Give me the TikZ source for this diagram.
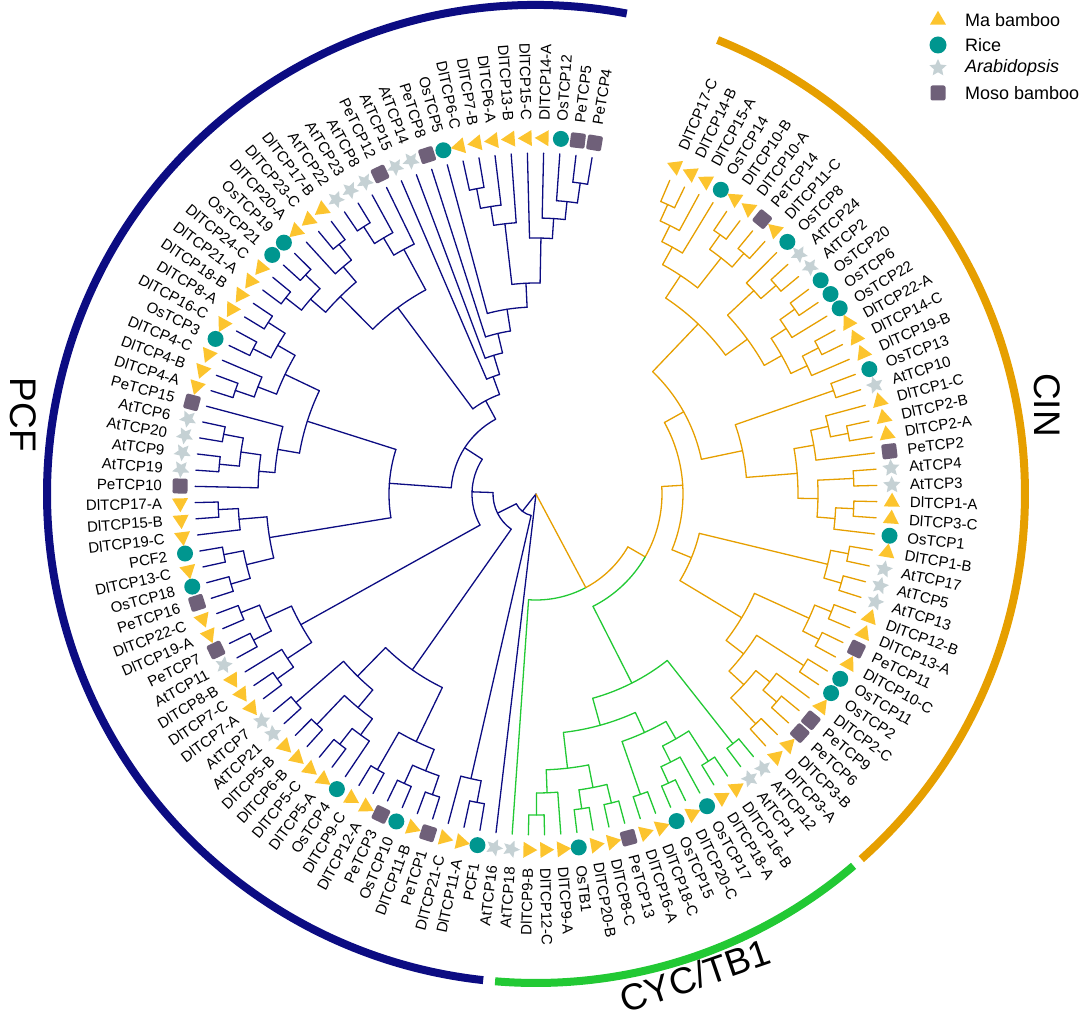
\documentclass[tikz,border=0pt]{standalone}
\usepackage{fontspec}
\setmainfont{Liberation Sans}
\usetikzlibrary{shapes.geometric}
\definecolor{triY}{HTML}{FCC42E}
\definecolor{cirT}{HTML}{00968F}
\definecolor{starG}{HTML}{C5D1D4}
\definecolor{sqP}{HTML}{6F6079}
\definecolor{pcf}{HTML}{0C0C82}
\definecolor{cin}{HTML}{E69F00}
\definecolor{cyc}{HTML}{22C934}
\newcommand\PA[1]{(66.9-(#1-1)*2.72727)}
\newcommand\stem[4][pcf]{\draw[#1] ({\PA{#2}}:#3) -- ({\PA{#2}}:#4);}
\newcommand\carc[4][pcf]{\draw[#1] ({\PA{#3}}:#2) arc[start angle={\PA{#3}}, end angle={\PA{#4}}, radius=#2];}
\newcommand\cl[3][pcf]{\foreach \pp/\rr [count=\cc] in {#3}{\stem[#1]{\pp}{#2}{\rr}\ifnum\cc=1 \xdef\pfirst{\pp}\fi\xdef\plast{\pp}}\carc[#1]{#2}{\pfirst}{\plast}}
\tikzset{
  mkt/.style={regular polygon, regular polygon sides=3, fill=triY, inner sep=0pt, minimum size=18.5bp},
  mkc/.style={circle, fill=cirT, inner sep=0pt, minimum size=16bp},
  mks/.style={star, star points=5, star point ratio=2.1, fill=starG, inner sep=0pt, minimum size=18bp},
  mkq/.style={rectangle, rounded corners=2bp, fill=sqP, inner sep=0pt, minimum size=15bp},
  lbl/.style={font=\fontsize{15bp}{18bp}\selectfont, inner sep=0pt},
  grp/.style={font=\fontsize{37bp}{40bp}\selectfont, inner sep=0pt},
  leg/.style={font=\fontsize{18bp}{21bp}\selectfont, inner sep=0pt, anchor=west}
}
\begin{document}
\begin{tikzpicture}[x=1bp,y=1bp]
\useasboundingbox (-536,-531) rectangle (548,494);
% outer class arcs
\draw[pcf, line width=8bp] (79.3:489) arc[start angle=79.3, end angle=263.8, radius=489];
\draw[cyc, line width=8bp] (265.2:489) arc[start angle=265.2, end angle=310.5, radius=489];
\draw[cin, line width=8bp] (311.7:489) arc[start angle=311.7, end angle=428.2, radius=489];
\node[grp, rotate=-90] (gPCF) at (-513,79) {PCF};
\node[grp, rotate=-90] (gCIN) at (511,89) {CIN};
\node[grp, rotate=19] (gCYC) at (159,-482) {CYC/TB1};
% tree
\begin{scope}[line width=1.3bp, line cap=round, line join=round]
% CIN
\cl[cin]{318}{1/341,2/341}
\cl[cin]{300}{1.5/318,3/341}
\cl[cin]{282}{2.25/300,4/341}
\cl[cin]{318}{5/341,6/341}
\cl[cin]{318}{7/341,8/341}
\cl[cin]{300}{5.5/318,7.5/318}
\cl[cin]{262}{3.125/282,6.5/300}
\cl[cin]{318}{10/341,11/341}
\cl[cin]{298}{9/341,10.5/318}
\cl[cin]{318}{12/341,13/341}
\cl[cin]{300}{12.5/318,14/341}
\cl[cin]{318}{15/341,16/341}
\cl[cin]{300}{15.5/318,17/341}
\cl[cin]{282}{13.25/300,16.25/300}
\cl[cin]{262}{9.75/298,14.75/282}
\cl[cin]{235}{4.8125/262,12.25/262}
\cl[cin]{315}{18/341,19/341}
\cl[cin]{318}{21/341,22/341}
\cl[cin]{300}{20/341,21.5/318}
\cl[cin]{282}{20.75/300,23/341}
\cl[cin]{318}{24/341,25/341}
\cl[cin]{318}{26/341,27/341}
\cl[cin]{300}{26.5/318,28/341}
\cl[cin]{282}{24.5/318,27.25/300}
\cl[cin]{262}{21.875/282,25.875/282}
\cl[cin]{211}{18.5/315,23.875/262}
\cl[cin]{169}{8.53125/235,21.1875/211}
\cl[cin]{318}{29/341,30/341}
\cl[cin]{318}{31/341,32/341}
\cl[cin]{300}{29.5/318,31.5/318}
\cl[cin]{318}{33/341,34/341}
\cl[cin]{318}{35/341,36/341}
\cl[cin]{300}{33.5/318,35.5/318}
\cl[cin]{318}{37/341,38/341}
\cl[cin]{318}{40/341,41/341}
\cl[cin]{300}{39/341,40.5/318}
\cl[cin]{318}{42/341,43/341}
\cl[cin]{282}{39.75/300,42.5/318}
\cl[cin]{262}{37.5/318,41.125/282}
\cl[cin]{240}{34.5/300,39.3125/262}
\cl[cin]{168}{30.5/300,36.906/240}
\cl[cin]{147}{14.859/169,33.703/168}
% CYC
\cl[cyc]{318}{44/341,45/341}
\cl[cyc]{318}{46/341,47/341}
\cl[cyc]{318}{49/341,50/341}
\cl[cyc]{300}{48/341,49.5/318}
\cl[cyc]{282}{46.5/318,48.75/300}
\cl[cyc]{318}{51/341,52/341}
\cl[cyc]{262}{47.625/282,51.5/318}
\cl[cyc]{321}{58/341,59/341}
\cl[cyc]{299}{57/341,58.5/321}
\cl[cyc]{318}{55/341,56/341}
\cl[cyc]{318}{53/341,54/341}
\cl[cyc]{299}{53.5/318,55.5/318}
\cl[cyc]{276}{54.5/299,57.75/299}
\cl[cyc]{240}{49.5625/262,56.125/276}
\cl[cyc]{212}{44.5/318,52.84/240}
% nodes A and B
\carc[cin]{106}{48.25}{36.5}\carc[cyc]{106}{48.25}{60}
\stem[cin]{36.5}{106}{126}\stem[cyc]{60}{106}{341}
\carc[cin]{126}{36.5}{24.28}\carc[cyc]{126}{36.5}{48.67}
\stem[cin]{24.28}{126}{147}\stem[cyc]{48.67}{126}{212}
% PCF  S1
\cl{314}{62/341,63/341}
\cl{292}{62.5/314,64/341}
% S2
\cl{318}{65/341,66/341}
\cl{318}{67/341,68/341}
\cl{298}{65.5/318,67.5/318}
\cl{318}{69/341,70/341}
\cl{275}{66.5/298,69.5/318}
\cl{318}{72/341,73/341}
\cl{298}{71/341,72.5/318}
\cl{318}{74/341,75/341}
\cl{278}{71.75/298,74.5/318}
\cl{318}{76/341,77/341}
\cl{255}{73.125/278,76.5/318}
\cl{215}{68/275,74.8125/255}
% S3
\cl{318}{78/341,79/341}
\cl{298}{78.5/318,80/341}
\cl{318}{81/341,82/341}
\cl{318}{83/341,84/341}
\cl{298}{81.5/318,83.5/318}
\cl{269}{79.25/298,82.5/298}
% Z1
\cl{318}{85/341,86/341}
\cl{318}{87/341,88/341}
\cl{298}{85.5/318,87.5/318}
\cl{318}{90/341,91/341}
\cl{298}{89/341,90.5/318}
\cl{270}{86.5/298,89.75/298}
% P5
\cl{318}{93/341,94/341}
\cl{318}{95/341,96/341}
\cl{298}{93.5/318,95.5/318}
\cl{278}{92/341,94.5/298}
\cl{262}{93.25/278,97/341}
% P6a
\cl{318}{98/341,99/341}
\cl{298}{98.5/318,100/341}
\cl{318}{101/341,102/341}
\cl{318}{103/341,104/341}
\cl{298}{101.5/318,103.5/318}
\cl{278}{99.25/298,102.5/298}
\cl{240}{95.125/262,100.875/278}
\cl{147}{88.125/270,98/240}
% X
\cl{318}{105/341,106/341}
\cl{318}{107/341,108/341}
\cl{298}{105.5/318,107.5/318}
\cl{318}{110/341,111/341}
\cl{298}{109/341,110.5/318}
\cl{278}{106.5/298,109.75/298}
\cl{318}{112/341,113/341}
\cl{298}{112.5/318,114/341}
\cl{278}{113.25/298,115/341}
\cl{232}{108.125/278,114.125/278}
% Y
\cl{311}{120/341,121/341}
\cl{291}{120.5/311,122/341}
\cl{272}{121.25/291,123/341}
\cl{314}{127/341,128/341}
\cl{294}{126/341,127.5/314}
\cl{276}{125/341,126.75/294}
\cl{256}{124/341,125.875/276}
\cl{211}{122.125/272,124.9375/256}
\cl{187}{119/341,123.53125/211}
\cl{165}{118/341,121.266/187}
\cl{145}{117/341,119.633/165}
\cl{125}{116/341,118.316/145}
% backbone
\cl{106}{111.125/232,117.158/125}
\cl{85}{93.0625/147,114.14/106}
\cl{64}{80.875/269,103.6/85}
\cl{43}{71.406/215,92.24/64}
\cl{22}{63.25/292,81.82/43}
% root
\stem{72.535}{0}{22}
\stem{61}{0}{341}
\stem[cin]{48.25}{0}{106}
\end{scope}
% leaves
\foreach \ii/\nm/\kk in {1/DlTCP17-C/t, 2/DlTCP14-B/t, 3/DlTCP15-A/t, 4/OsTCP14/c, 5/DlTCP10-B/t, 6/DlTCP10-A/t, 7/PeTCP14/q, 8/DlTCP11-C/t, 9/OsTCP8/c, 10/AtTCP24/s, 11/AtTCP2/s, 12/OsTCP20/c, 13/OsTCP6/c, 14/OsTCP22/c, 15/DlTCP22-A/t, 16/DlTCP14-C/t, 17/DlTCP19-B/t, 18/OsTCP13/c, 19/AtTCP10/s, 20/DlTCP1-C/t, 21/DlTCP2-B/t, 22/DlTCP2-A/t, 23/PeTCP2/q, 24/AtTCP4/s, 25/AtTCP3/s, 26/DlTCP1-A/t, 27/DlTCP3-C/t, 28/OsTCP1/c, 29/DlTCP1-B/t, 30/AtTCP17/s, 31/AtTCP5/s, 32/AtTCP13/s, 33/DlTCP12-B/t, 34/DlTCP13-A/t, 35/PeTCP11/q, 36/DlTCP10-C/t, 37/OsTCP11/c, 38/OsTCP2/c, 39/DlTCP2-C/t, 40/PeTCP9/q, 41/PeTCP6/q, 42/DlTCP3-B/t, 43/DlTCP3-A/t, 44/AtTCP12/s, 45/AtTCP1/s, 46/DlTCP16-B/t, 47/DlTCP18-A/t, 48/OsTCP17/c, 49/DlTCP20-C/t, 50/OsTCP15/c, 51/DlTCP18-C/t, 52/DlTCP16-A/t, 53/PeTCP13/q, 54/DlTCP8-C/t, 55/DlTCP20-B/t, 56/OsTB1/c, 57/DlTCP9-A/t, 58/DlTCP12-C/t, 59/DlTCP9-B/t, 60/AtTCP18/s, 61/AtTCP16/s, 62/PCF1/c, 63/DlTCP11-A/t, 64/DlTCP21-C/t, 65/PeTCP1/q, 66/DlTCP11-B/t, 67/OsTCP10/c, 68/PeTCP3/q, 69/DlTCP12-A/t, 70/DlTCP9-C/t, 71/OsTCP4/c, 72/DlTCP5-A/t, 73/DlTCP5-C/t, 74/DlTCP6-B/t, 75/DlTCP5-B/t, 76/AtTCP21/s, 77/AtTCP7/s, 78/DlTCP7-A/t, 79/DlTCP7-C/t, 80/DlTCP8-B/t, 81/AtTCP11/s, 82/PeTCP7/q, 83/DlTCP19-A/t, 84/DlTCP22-C/t, 85/PeTCP16/q, 86/OsTCP18/c, 87/DlTCP13-C/t, 88/PCF2/c, 89/DlTCP19-C/t, 90/DlTCP15-B/t, 91/DlTCP17-A/t, 92/PeTCP10/q, 93/AtTCP19/s, 94/AtTCP9/s, 95/AtTCP20/s, 96/AtTCP6/s, 97/PeTCP15/q, 98/DlTCP4-A/t, 99/DlTCP4-B/t, 100/DlTCP4-C/t, 101/OsTCP3/c, 102/DlTCP16-C/t, 103/DlTCP8-A/t, 104/DlTCP18-B/t, 105/DlTCP21-A/t, 106/DlTCP24-C/t, 107/OsTCP21/c, 108/OsTCP19/c, 109/DlTCP20-A/t, 110/DlTCP23-C/t, 111/DlTCP17-B/t, 112/AtTCP22/s, 113/AtTCP23/s, 114/AtTCP8/s, 115/PeTCP12/q, 116/AtTCP15/s, 117/AtTCP14/s, 118/PeTCP8/q, 119/OsTCP5/c, 120/DlTCP6-C/t, 121/DlTCP7-B/t, 122/DlTCP6-A/t, 123/DlTCP13-B/t, 124/DlTCP15-C/t, 125/DlTCP14-A/t, 126/OsTCP12/c, 127/PeTCP5/q, 128/PeTCP4/q}{
  \pgfmathsetmacro\aa{66.9-(\ii-1)*2.72727}
  \if t\kk \node[mkt, rotate=\aa] (m\ii) at (\aa:356) {};\fi
  \if c\kk \node[mkc] (m\ii) at (\aa:356) {};\fi
  \if s\kk \node[mks, rotate=\aa] (m\ii) at (\aa:356) {};\fi
  \if q\kk \node[mkq, rotate=\aa] (m\ii) at (\aa:356) {};\fi
  \pgfmathsetmacro\cs{cos(\aa)}
  \ifdim\cs pt<0pt
    \pgfmathsetmacro\ra{\aa+180}
    \node[lbl, anchor=east, rotate=\ra] (l\ii) at (\aa:374) {\nm};
  \else
    \node[lbl, anchor=west, rotate=\aa] (l\ii) at (\aa:374) {\nm};
  \fi
}
% legend
\node[mkt] (k1) at (402,474) {};
\node[mkc, minimum size=17bp] (k2) at (402,449) {};
\node[mks] (k3) at (402,426) {};
\node[mkq] (k4) at (402,401) {};
\node[leg] (t1) at (429,474) {Ma bamboo};
\node[leg] (t2) at (429,449) {Rice};
\node[leg] (t3) at (429,426) {\itshape Arabidopsis};
\node[leg] (t4) at (429,401) {Moso bamboo};
\end{tikzpicture}
\end{document}
